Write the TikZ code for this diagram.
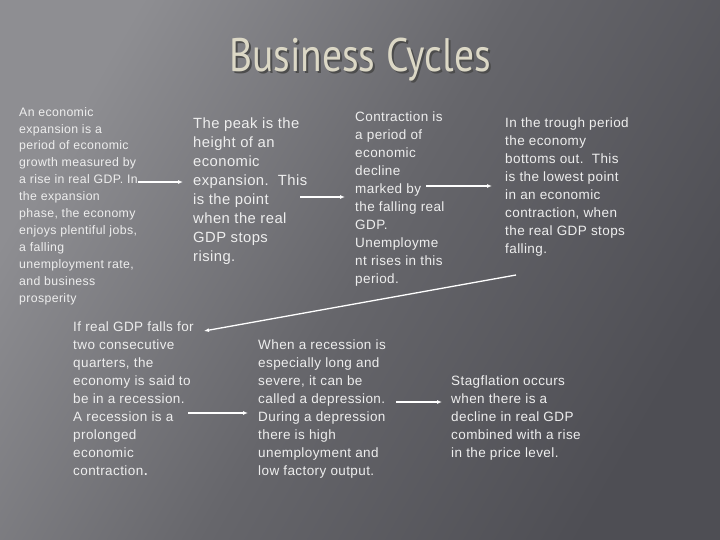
\documentclass[tikz,border=0pt]{standalone}
\usepackage{fontspec}
\setmainfont{Liberation Sans}[LetterSpace=3]
\newfontfamily\titlefont[FakeStretch=0.84]{PT Sans}
\usetikzlibrary{arrows.meta}
\definecolor{txt}{HTML}{EEEEEE}
\definecolor{bgL}{HTML}{8E8E92}
\definecolor{bgM}{HTML}{66666B}
\definecolor{bgR}{HTML}{4E4E54}
\definecolor{ttl}{HTML}{DCD8C6}
\tikzset{
 blk/.style={anchor=north west,align=left,text=txt,inner sep=0pt},
 arr/.style={draw=white,line width=1.3pt,-{Latex[length=5pt,width=4pt]}}
}
\begin{document}
\begin{tikzpicture}[x=1pt,y=-1pt]
\useasboundingbox (0,0) rectangle (720,540);
\shade[left color=bgL,right color=bgR,middle color=bgM,shading angle=60] (0,0) rectangle (720,540);
\node[text=black!70,font=\titlefont\fontsize{47}{50}\selectfont] (ts) at (362,62) {Business Cycles};
\node[text=ttl,font=\titlefont\fontsize{47}{50}\selectfont] (t) at (360,60) {Business Cycles};
\node[blk,font=\fontsize{12.3}{16.9}\selectfont] (a) at (19,107) {An economic\\expansion is a\\period of economic\\growth measured by\\a rise in real GDP. In\\the expansion\\phase, the economy\\enjoys plentiful jobs,\\a falling\\unemployment rate,\\and business\\prosperity};
\node[blk,font=\fontsize{14.8}{19}\selectfont] (b) at (193,118) {The peak is the\\height of an\\economic\\expansion.\ \ This\\is the point\\when the real\\GDP stops\\rising.};
\node[blk,font=\fontsize{13.5}{18}\selectfont] (c) at (355,112) {Contraction is\\a period of\\economic\\decline\\marked by\\the falling real\\GDP.\\Unemployme\\nt rises in this\\period.};
\node[blk,font=\fontsize{13.5}{18}\selectfont] (d) at (505,118) {In the trough period\\the economy\\bottoms out.\ \ This\\is the lowest point\\in an economic\\contraction, when\\the real GDP stops\\falling.};
\node[blk,font=\fontsize{13.5}{18}\selectfont] (e) at (73,322) {If real GDP falls for\\two consecutive\\quarters, the\\economy is said to\\be in a recession.\\A recession is a\\prolonged\\economic\\contraction{\fontsize{18}{18}\selectfont.}};
\node[blk,font=\fontsize{13.5}{18}\selectfont] (f) at (258,340) {When a recession is\\especially long and\\severe, it can be\\called a depression.\\During a depression\\there is high\\unemployment and\\low factory output.};
\node[blk,font=\fontsize{13.5}{18}\selectfont] (g) at (451,376) {Stagflation occurs\\when there is a\\decline in real GDP\\combined with a rise\\in the price level.};
\coordinate (a1) at (138,182); \coordinate (b0) at (183,182);
\coordinate (b1) at (300,197); \coordinate (c0) at (345,197);
\coordinate (c1) at (426,186); \coordinate (d0) at (492,186);
\coordinate (d1) at (516,275); \coordinate (e0) at (204,331);
\coordinate (e1) at (188,413); \coordinate (f0) at (248,413);
\coordinate (f1) at (396,402); \coordinate (g0) at (442,402);
\draw[arr] (a1) -- (b0);
\draw[arr] (b1) -- (c0);
\draw[arr] (c1) -- (d0);
\draw[arr] (d1) -- (e0);
\draw[arr] (e1) -- (f0);
\draw[arr] (f1) -- (g0);
\end{tikzpicture}
\end{document}
